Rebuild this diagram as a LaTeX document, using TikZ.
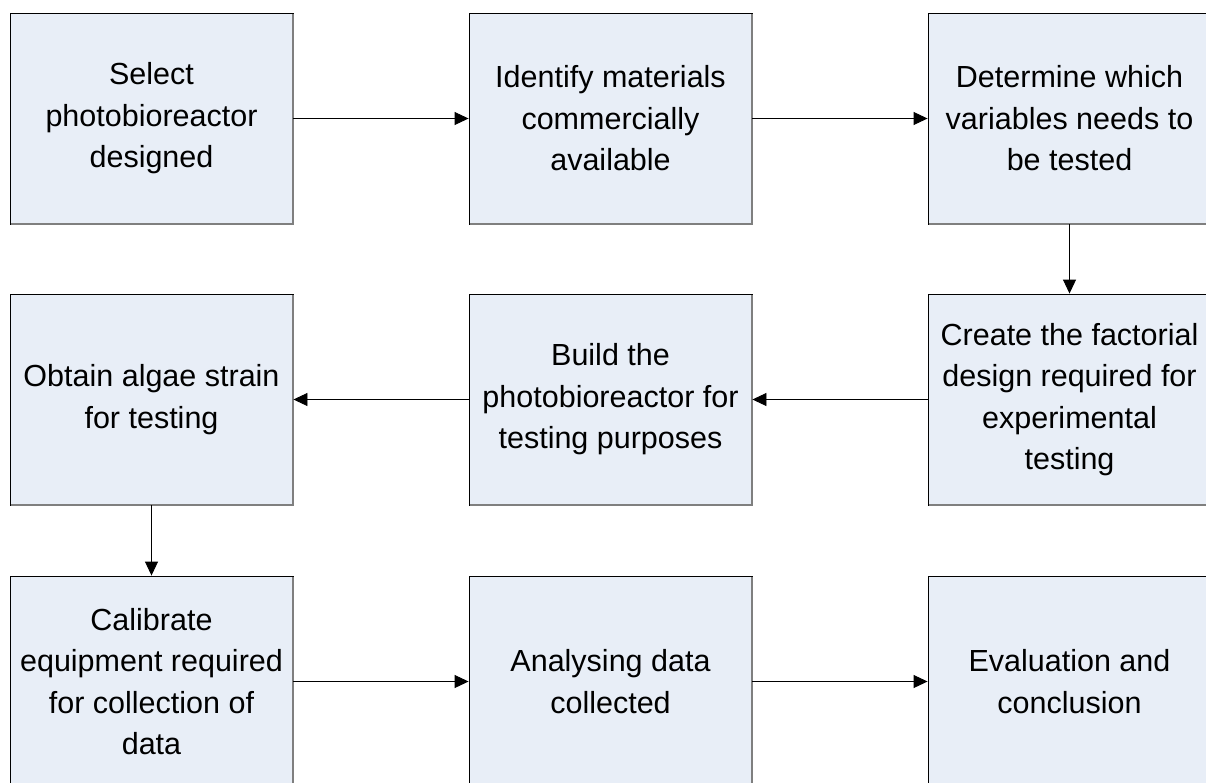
\documentclass[tikz,border=0pt]{standalone}
\usepackage{fontspec}
\setmainfont{Liberation Sans}
\usetikzlibrary{arrows.meta}
\definecolor{boxfill}{HTML}{E8EEF7}
\definecolor{edgegray}{HTML}{7F7F7F}
\tikzset{
  stepbox/.style={rectangle, fill=boxfill, draw=black, line width=0.9pt,
    minimum width=283pt, minimum height=211pt, inner sep=0pt,
    align=center, font=\fontsize{30.5}{41.5}\selectfont},
  shade edge/.style={draw=edgegray, line width=2pt},
  flow/.style={draw=black, line width=0.9pt,
    -{Triangle[length=14pt,width=13pt]}}
}
\begin{document}
\begin{tikzpicture}[x=1pt,y=-1pt]
\useasboundingbox (0,0) rectangle (1206,782);
\clip (0,0) rectangle (1206,782);
\fill[white] (0,0) rectangle (1206,782);

% first row
\node[stepbox] (b1) at (151.5,118.5) {Select\\photobioreactor\\designed};
\node[stepbox] (b2) at (610.5,118.5) {Identify materials\\commercially\\available};
\node[stepbox] (b3) at (1069.5,118.5) {Determine which\\variables needs to\\be tested};
% second row
\node[stepbox] (b4) at (151.5,399.5) {Obtain algae strain\\for testing};
\node[stepbox] (b5) at (610.5,399.5) {Build the\\photobioreactor for\\testing purposes};
\node[stepbox] (b6) at (1069.5,399.5) {Create the factorial\\design required for\\experimental\\testing};
% third row
\node[stepbox] (b7) at (151.5,681.5) {Calibrate\\equipment required\\for collection of\\data};
\node[stepbox] (b8) at (610.5,681.5) {Analysing data\\collected};
\node[stepbox] (b9) at (1069.5,681.5) {Evaluation and\\conclusion};

% darker right and bottom edges of each box
\foreach \n in {b1,b2,b3,b4,b5,b6,b7,b8,b9}{
  \draw[shade edge] ([yshift=-1pt]\n.north east) -- (\n.south east) -- ([xshift=1pt]\n.south west);
}

% connectors
\draw[flow] (b1.east) -- (b2.west);
\draw[flow] (b2.east) -- (b3.west);
\draw[flow] (b3.south) -- (b6.north);
\draw[flow] (b6.west) -- (b5.east);
\draw[flow] (b5.west) -- (b4.east);
\draw[flow] (b4.south) -- (b7.north);
\draw[flow] (b7.east) -- (b8.west);
\draw[flow] (b8.east) -- (b9.west);
\end{tikzpicture}
\end{document}
